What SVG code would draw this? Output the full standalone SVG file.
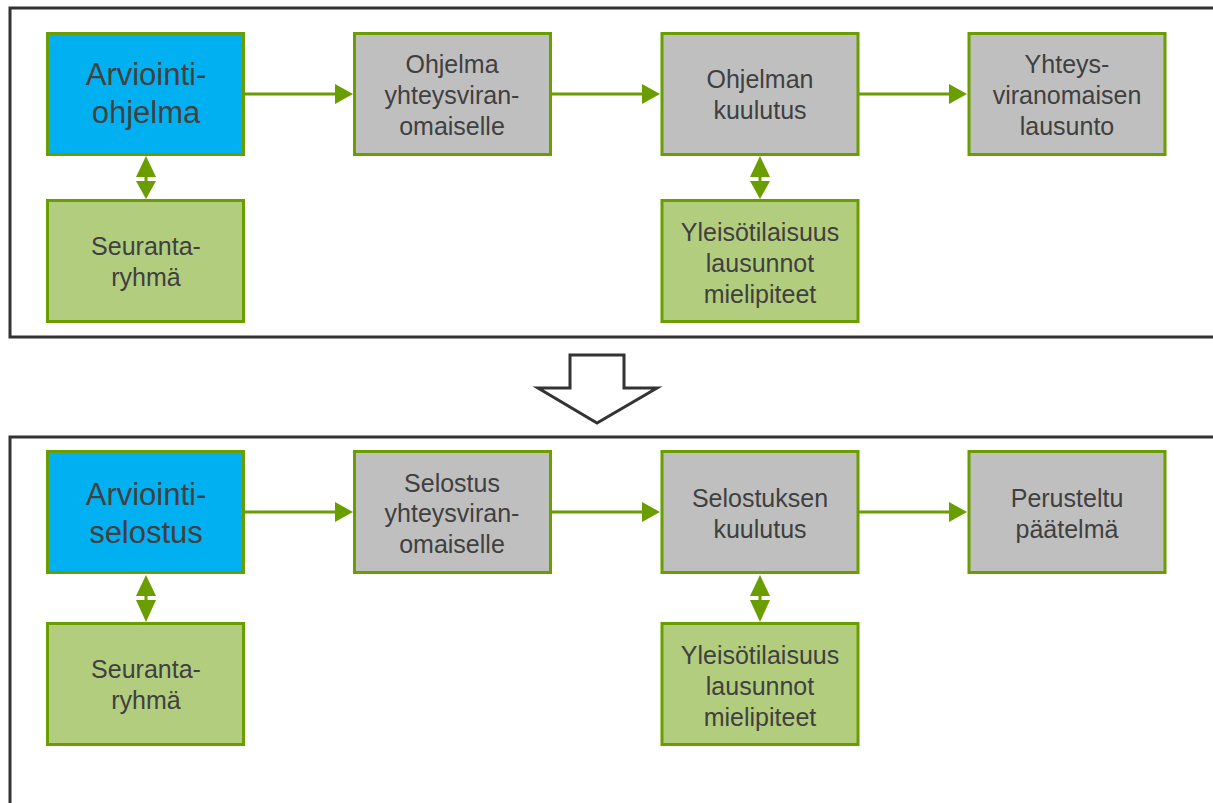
<svg xmlns="http://www.w3.org/2000/svg" width="1213" height="803" viewBox="0 0 1213 803">
<defs>
<style>
.frame{fill:none;stroke:#333333;stroke-width:3}
.box{stroke:#6a9e00;stroke-width:3}
.blue{fill:#00b0f0}
.gray{fill:#bfbfbf}
.lg{fill:#b3cd7f}
.t{font-family:"Liberation Sans",Arial,sans-serif;font-size:25px;fill:#404040;text-anchor:middle}
.big{font-size:31px}
.ln{stroke:#6a9e00;stroke-width:3;fill:none}
.ah{fill:#6a9e00}
</style>
</defs>
<rect width="1213" height="803" fill="#ffffff"/>
<rect class="frame" x="10" y="8" width="1220" height="329"/>
<path class="frame" d="M10,820 V437 H1230"/>
<polygon points="570,355 624,355 624,388 657,388 597,423 538,388 570,388" fill="#ffffff" stroke="#333333" stroke-width="3"/>
<g id="connectors">
<line class="ln" x1="245" y1="94" x2="338" y2="94"/><polygon class="ah" points="353,94 335,84 335,104"/>
<line class="ln" x1="551" y1="94" x2="645" y2="94"/><polygon class="ah" points="660,94 642,84 642,104"/>
<line class="ln" x1="859" y1="94" x2="952" y2="94"/><polygon class="ah" points="967,94 949,84 949,104"/>
<line class="ln" x1="245" y1="512" x2="338" y2="512"/><polygon class="ah" points="353,512 335,502 335,522"/>
<line class="ln" x1="551" y1="512" x2="645" y2="512"/><polygon class="ah" points="660,512 642,502 642,522"/>
<line class="ln" x1="859" y1="512" x2="952" y2="512"/><polygon class="ah" points="967,512 949,502 949,522"/>
<g id="dbl1"><polygon class="ah" points="146,156 136,177 156,177"/><line class="ln" x1="146" y1="176" x2="146" y2="182"/><polygon class="ah" points="136,181 156,181 146,199"/></g>
<g id="dbl2"><polygon class="ah" points="760,156 750,177 770,177"/><line class="ln" x1="760" y1="176" x2="760" y2="182"/><polygon class="ah" points="750,181 770,181 760,199"/></g>
<g id="dbl3"><polygon class="ah" points="146,575 136,596 156,596"/><line class="ln" x1="146" y1="595" x2="146" y2="601"/><polygon class="ah" points="136,600 156,600 146,622"/></g>
<g id="dbl4"><polygon class="ah" points="760,575 750,596 770,596"/><line class="ln" x1="760" y1="595" x2="760" y2="601"/><polygon class="ah" points="750,600 770,600 760,622"/></g>
</g>
<g id="n1"><rect class="box blue" x="47.5" y="33.5" width="196" height="121"/><text class="t big" x="146" y="85">Arviointi-</text><text class="t big" x="146" y="123">ohjelma</text></g>
<g id="n2"><rect class="box gray" x="354.5" y="33.5" width="196" height="121"/><text class="t" x="452" y="73">Ohjelma</text><text class="t" x="452" y="104">yhteysviran-</text><text class="t" x="452" y="135">omaiselle</text></g>
<g id="n3"><rect class="box gray" x="662" y="33.5" width="196" height="121"/><text class="t" x="760" y="88">Ohjelman</text><text class="t" x="760" y="119">kuulutus</text></g>
<g id="n4"><rect class="box gray" x="969" y="33.5" width="196" height="121"/><text class="t" x="1067" y="73">Yhteys-</text><text class="t" x="1067" y="104">viranomaisen</text><text class="t" x="1067" y="135">lausunto</text></g>
<g id="n5"><rect class="box lg" x="47.5" y="200.5" width="196" height="121"/><text class="t" x="146" y="255">Seuranta-</text><text class="t" x="146" y="286">ryhmä</text></g>
<g id="n6"><rect class="box lg" x="662" y="200.5" width="196" height="121"/><text class="t" x="760" y="241">Yleisötilaisuus</text><text class="t" x="760" y="272">lausunnot</text><text class="t" x="760" y="303">mielipiteet</text></g>
<g id="n7"><rect class="box blue" x="47.5" y="451.5" width="196" height="121"/><text class="t big" x="146" y="505">Arviointi-</text><text class="t big" x="146" y="543">selostus</text></g>
<g id="n8"><rect class="box gray" x="354.5" y="451.5" width="196" height="121"/><text class="t" x="452" y="492">Selostus</text><text class="t" x="452" y="522">yhteysviran-</text><text class="t" x="452" y="553">omaiselle</text></g>
<g id="n9"><rect class="box gray" x="662" y="451.5" width="196" height="121"/><text class="t" x="760" y="507">Selostuksen</text><text class="t" x="760" y="538">kuulutus</text></g>
<g id="n10"><rect class="box gray" x="969" y="451.5" width="196" height="121"/><text class="t" x="1067" y="507">Perusteltu</text><text class="t" x="1067" y="538">päätelmä</text></g>
<g id="n11"><rect class="box lg" x="47.5" y="623.5" width="196" height="121"/><text class="t" x="146" y="678">Seuranta-</text><text class="t" x="146" y="709">ryhmä</text></g>
<g id="n12"><rect class="box lg" x="662" y="623.5" width="196" height="121"/><text class="t" x="760" y="664">Yleisötilaisuus</text><text class="t" x="760" y="695">lausunnot</text><text class="t" x="760" y="726">mielipiteet</text></g>
</svg>
